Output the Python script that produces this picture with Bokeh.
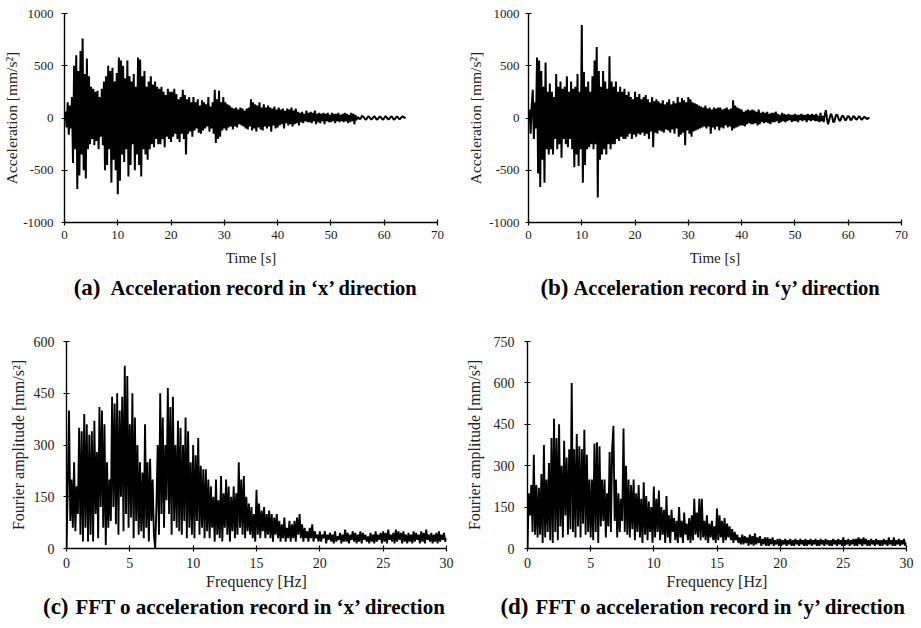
from bokeh.plotting import figure
from bokeh.layouts import column, row
from bokeh.models import Range1d, FixedTicker, Label, PrintfTickFormatter
from bokeh.embed import file_html
from bokeh.resources import INLINE
import numpy as np

# ---------------- data ----------------
dt = 0.2   # s, sampling step of the acceleration records
df = 0.1   # Hz, step of the Fourier spectra

accel_x = [
    0, 60, -90, 150, -160, 120, -100, 200, -430, 500,
    -300, 600, -680, 450, -550, 640, -350, 760, -500, 420,
    -580, 570, -300, 400, -250, 300, -200, 280, -260, 250,
    -220, 260, -300, 200, -180, 280, -260, 350, -500, 400,
    -450, 500, -300, 450, -620, 480, -400, 350, -500, 430,
    -730, 580, -600, 550, -350, 500, -420, 380, -300, 550,
    -560, 400, -450, 350, -250, 420, -500, 300, -350, 580,
    -450, 560, -560, 400, -300, 450, -350, 300, -400, 350,
    -300, 400, -250, 320, -280, 350, -200, 300, -250, 280,
    -250, 300, -200, 250, -280, 220, -180, 280, -200, 250,
    -230, 250, -180, 280, -150, 230, -200, 180, -230, 200,
    -150, 270, -200, 220, -350, 180, -150, 200, -130, 150,
    -180, 200, -120, 150, -100, 180, -140, 120, -150, 170,
    -120, 150, -100, 130, -80, 200, -130, 110, -100, 150,
    -150, 270, -240, 180, -200, 260, -180, 150, -120, 200,
    -100, 150, -120, 130, -90, 120, -80, 100, -110, 90,
    -80, 100, -90, 80, -60, 100, -70, 90, -80, 70,
    -100, 90, -110, 100, -80, 180, -120, 150, -100, 130,
    -130, 120, -90, 150, -110, 100, -120, 130, -80, 100,
    -100, 120, -80, 100, -130, 90, -70, 110, -100, 80,
    -90, 100, -70, 80, -60, 90, -100, 70, -50, 90,
    -70, 80, -60, 100, -80, 70, -60, 90, -50, 60,
    -70, 50, -40, 60, -50, 40, -30, 70, -40, 50,
    -40, 60, -50, 50, -30, 70, -60, 40, -40, 50,
    -50, 40, -30, 50, -60, 40, -30, 50, -40, 30,
    -40, 50, -30, 40, -50, 40, -30, 50, -40, 30,
    -30, 40, -40, 50, -30, 40, -50, 30, -40, 50,
    -30, 40, -60, 30, -20, 10, 0, -10, -5, 20,
    15, 5, -10, -15, 0, 15, 10, -5, -15, -5,
    10, 15, 0, -15, -10, 5, 15, 5, -10, -15,
    0, 15, 10, -5, -15, -5, 10, 15, 0, -15,
    -10, 5, 15, 5, -10, -10, 5, 15, 10, 0,
    10,
]

accel_y = [
    0, 80, -150, 120, 270, -200, 150, -100, 580, -530,
    550, -660, 450, -400, 300, -620, 530, -300, 250, -350,
    330, -300, 250, -350, 200, -200, 420, -300, 300, -250,
    350, -380, 280, -200, 300, -250, 400, -280, 250, -200,
    350, -300, 280, -470, 300, -350, 420, -460, 250, -300,
    890, -620, 440, -450, 300, -300, 350, -280, 250, -250,
    400, -300, 550, -250, 680, -760, 450, -400, 300, -350,
    450, -300, 350, -350, 280, -250, 590, -300, 350, -250,
    300, -250, 350, -200, 250, -220, 300, -180, 250, -200,
    280, -200, 220, -180, 250, -150, 200, -200, 180, -160,
    250, -180, 200, -150, 230, -160, 180, -140, 200, -170,
    220, -150, 180, -200, 150, -130, 200, -280, 160, -140,
    180, -150, 160, -120, 140, -130, 170, -140, 130, -110,
    150, -120, 180, -140, 130, -110, 160, -150, 140, -100,
    200, -180, 150, -160, 190, -140, 170, -260, 150, -120,
    200, -150, 180, -180, 150, -130, 140, -120, 130, -110,
    120, -100, 110, -90, 100, -80, 120, -100, 90, -80,
    100, -150, 80, -90, 100, -110, 90, -80, 100, -120,
    100, -90, 80, -100, 90, -70, 100, -90, 80, -80,
    90, -120, 170, -100, 120, -90, 100, -80, 90, -70,
    80, -70, 60, -80, 70, -60, 80, -50, 70, -60,
    80, -60, 70, -50, 60, -70, 80, -60, 50, -40,
    60, -50, 50, -40, 60, -50, 40, -60, 50, -40,
    50, -40, 60, -30, 40, -50, 30, -40, 50, -30,
    40, -40, 30, -30, 40, -20, 30, -40, 30, -30,
    40, -30, 30, -40, 30, -20, 40, -30, 30, -20,
    30, -40, 40, -20, 30, -30, 40, -20, 30, -30,
    40, -30, 20, -40, 50, -30, 20, -40, 30, 75,
    0, -60, -30, 20, 40, 10, -40, -35, 10, 35,
    25, -10, -30, -15, 15, 25, 5, -20, -20, 5,
    20, 10, -15, -20, 0, 20, 10, -10, -15, 0,
    15, 10, -10, -15, 0, 10, 5, -5, -10, 0,
    0,
]

fft_x = [
    0, 180, 400, 80, 200, 60, 250, 50, 180, 100,
    350, 40, 340, 20, 390, 60, 360, 20, 330, 40,
    340, 20, 370, 100, 280, 30, 410, 120, 400, 60,
    360, 10, 250, 60, 200, 80, 440, 120, 420, 70,
    450, 40, 400, 150, 440, 50, 530, 100, 500, 60,
    360, 90, 450, 30, 380, 80, 300, 40, 250, 50,
    220, 30, 360, 60, 250, 20, 260, 80, 200, 40,
    0, 120, 300, 40, 450, 100, 380, 60, 300, 140,
    465, 100, 410, 40, 440, 80, 300, 60, 370, 50,
    350, 40, 300, 80, 380, 30, 340, 60, 250, 40,
    300, 30, 270, 80, 320, 40, 240, 60, 230, 30,
    230, 50, 200, 30, 180, 60, 150, 20, 200, 40,
    140, 30, 210, 20, 160, 60, 200, 40, 180, 20,
    150, 50, 180, 30, 160, 40, 250, 60, 200, 40,
    210, 30, 150, 50, 130, 40, 120, 30, 100, 20,
    170, 40, 130, 30, 110, 50, 120, 30, 100, 40,
    110, 30, 100, 20, 90, 40, 100, 30, 80, 20,
    70, 30, 90, 20, 60, 30, 80, 20, 70, 30,
    80, 20, 90, 40, 100, 30, 70, 20, 60, 30,
    50, 20, 60, 30, 70, 20, 50, 30, 40, 20,
    50, 20, 40, 30, 50, 15, 40, 25, 45, 20,
    40, 15, 50, 20, 35, 25, 45, 15, 40, 20,
    55, 20, 45, 15, 40, 25, 50, 20, 45, 15,
    40, 20, 50, 15, 45, 25, 40, 20, 35, 15,
    45, 20, 40, 15, 50, 20, 40, 25, 45, 15,
    50, 20, 45, 15, 55, 25, 40, 20, 45, 15,
    55, 20, 50, 25, 45, 15, 50, 20, 40, 15,
    45, 20, 40, 15, 50, 20, 45, 25, 40, 15,
    50, 20, 45, 15, 55, 25, 40, 20, 45, 15,
    40, 20, 45, 15, 50, 20, 40, 25, 45, 20,
    30,
]

fft_y = [
    0, 200, 120, 230, 60, 340, 50, 230, 40, 220,
    50, 270, 20, 375, 40, 250, 60, 310, 30, 400,
    20, 470, 60, 400, 30, 450, 80, 300, 40, 390,
    120, 330, 50, 360, 70, 600, 60, 360, 40, 415,
    80, 370, 40, 360, 90, 430, 50, 340, 60, 250,
    40, 250, 30, 380, 60, 385, 20, 370, 80, 250,
    100, 250, 40, 200, 80, 350, 60, 360, 445, 100,
    250, 40, 200, 60, 180, 100, 435, 60, 300, 50,
    250, 40, 230, 70, 250, 30, 200, 60, 230, 40,
    180, 20, 240, 50, 190, 30, 170, 60, 150, 20,
    225, 40, 180, 60, 210, 30, 150, 50, 140, 20,
    190, 40, 120, 20, 140, 60, 110, 30, 100, 20,
    150, 40, 100, 20, 130, 50, 90, 30, 110, 20,
    120, 30, 180, 50, 130, 40, 180, 30, 180, 40,
    100, 30, 120, 20, 90, 40, 100, 30, 80, 20,
    145, 30, 120, 40, 100, 20, 110, 30, 90, 40,
    80, 30, 70, 20, 60, 30, 50, 20, 40, 15,
    50, 15, 45, 20, 40, 10, 50, 15, 45, 10,
    55, 15, 40, 20, 45, 10, 35, 15, 40, 10,
    40, 10, 35, 15, 40, 10, 30, 15, 35, 10,
    35, 10, 30, 15, 35, 10, 30, 15, 35, 10,
    30, 10, 35, 15, 30, 10, 35, 15, 30, 10,
    35, 10, 30, 15, 35, 10, 30, 15, 35, 10,
    30, 10, 35, 15, 30, 10, 35, 15, 30, 10,
    30, 10, 35, 15, 30, 10, 35, 15, 30, 10,
    40, 10, 30, 15, 35, 10, 30, 15, 35, 10,
    35, 10, 40, 15, 35, 10, 40, 15, 35, 10,
    30, 10, 35, 15, 30, 10, 35, 15, 30, 10,
    30, 10, 35, 15, 30, 10, 40, 15, 30, 10,
    40, 10, 30, 15, 35, 10, 30, 15, 35, 10,
    20,
]

time_ticks = [0, 10, 20, 30, 40, 50, 60, 70]
accel_ticks = [-1000, -500, 0, 500, 1000]
freq_ticks = [0, 5, 10, 15, 20, 25, 30]
fftx_ticks = [0, 150, 300, 450, 600]
ffty_ticks = [0, 150, 300, 450, 600, 750]

captions = [
    ("(a)", "Acceleration record in ‘x’ direction"),
    ("(b)", "Acceleration record in ‘y’ direction"),
    ("(c)", "FFT o acceleration record in ‘x’ direction"),
    ("(d)", "FFT o acceleration record in ‘y’ direction"),
]

FONT = "Liberation Serif"


def make_panel(width, height, bl, br, bt, bb, xr, yr, xticks, yticks,
               xlabel, ylabel, ytick_standoff, ylab_standoff,
               xtick_standoff, xlab_standoff, tick_size, xlab_size, ylab_size):
    p = figure(width=width, height=height,
               x_range=Range1d(*xr), y_range=Range1d(*yr),
               output_backend="svg", toolbar_location=None,
               min_border_left=bl, min_border_right=br,
               min_border_top=bt, min_border_bottom=bb)
    p.outline_line_color = None
    p.grid.visible = False
    for ax, ticks in ((p.xaxis[0], xticks), (p.yaxis[0], yticks)):
        ax.ticker = FixedTicker(ticks=ticks, minor_ticks=[])
        ax.formatter = PrintfTickFormatter(format="%d")
        ax.axis_line_color = "black"
        ax.axis_line_width = 1.4
        ax.major_tick_line_color = "black"
        ax.major_tick_line_width = 1.2
        ax.major_tick_in = 3
        ax.major_tick_out = 3
        ax.minor_tick_line_color = None
        ax.major_label_text_font = FONT
        ax.major_label_text_font_size = tick_size
        ax.major_label_text_color = "#1a1a1a"
        ax.axis_label_text_font = FONT
        ax.axis_label_text_font_style = "normal"
        ax.axis_label_text_color = "#222222"
    p.xaxis[0].axis_label_text_font_size = xlab_size
    p.yaxis[0].axis_label_text_font_size = ylab_size
    p.xaxis[0].axis_label = xlabel
    p.yaxis[0].axis_label = ylabel
    p.xaxis[0].major_label_standoff = xtick_standoff
    p.xaxis[0].axis_label_standoff = xlab_standoff
    p.yaxis[0].major_label_standoff = ytick_standoff
    p.yaxis[0].axis_label_standoff = ylab_standoff
    return p


def make_caption(width, height, letter, text, x_letter, x_text, y_base, size):
    c = figure(width=width, height=height,
               x_range=Range1d(0, width), y_range=Range1d(0, height),
               x_axis_type=None, y_axis_type=None,
               output_backend="svg", toolbar_location=None, min_border=0)
    c.outline_line_color = None
    c.grid.visible = False
    c.add_layout(Label(x=x_letter, y=y_base, text=letter, text_font=FONT,
                       text_font_size="23px", text_font_style="bold",
                       text_align="right", text_baseline="alphabetic",
                       text_color="black"))
    c.add_layout(Label(x=x_text, y=y_base, text=text, text_font=FONT,
                       text_font_size=size, text_font_style="bold",
                       text_align="left", text_baseline="alphabetic",
                       text_color="black"))
    return c


t_x = np.arange(len(accel_x)) * dt
t_y = np.arange(len(accel_y)) * dt
f_x = np.arange(len(fft_x)) * df
f_y = np.arange(len(fft_y)) * df

# (a)
pa = make_panel(460, 271, 64, 23, 13, 49, (0, 70), (-1000, 1000),
                time_ticks, accel_ticks, "Time [s]", "Acceleration [mm/s²]",
                8, 0, 5, 8, "13px", "15px", "15.5px")
pa.line(t_x, accel_x, line_color="black", line_width=2.0)

# (b)
pb = make_panel(461, 271, 68, 20, 13, 49, (0, 70), (-1000, 1000),
                time_ticks, accel_ticks, "Time [s]", "Acceleration [mm/s²]",
                6, 2, 5, 8, "13px", "15px", "15.5px")
pb.line(t_y, accel_y, line_color="black", line_width=2.0)

# (c)
pc = make_panel(460, 274, 66, 14, 21, 46, (0, 30), (0, 600),
                freq_ticks, fftx_ticks, "Frequency [Hz]", "Fourier amplitude [mm/s²]",
                9, 4, 6, 2, "14px", "16px", "16px")
pc.line(f_x, fft_x, line_color="black", line_width=1.9)

# (d)
pd_ = make_panel(461, 274, 67, 15, 21, 46, (0, 30), (0, 750),
                 freq_ticks, ffty_ticks, "Frequency [Hz]", "Fourier amplitude [mm/s²]",
                 10, 8, 6, 2, "14px", "16px", "16px")
pd_.line(f_y, fft_y, line_color="black", line_width=1.9)

ca = make_caption(460, 49, captions[0][0], captions[0][1], 100, 110, 33, "20.5px")
cb = make_caption(461, 49, captions[1][0], captions[1][1], 108, 113, 33, "20.5px")
cc = make_caption(460, 33, captions[2][0], captions[2][1], 68, 75, 21, "21px")
cd = make_caption(461, 33, captions[3][0], captions[3][1], 68, 75, 21, "21px")

layout = column(row(pa, pb), row(ca, cb), row(pc, pd_), row(cc, cd))
open("out.html", "w").write(file_html(layout, INLINE))
